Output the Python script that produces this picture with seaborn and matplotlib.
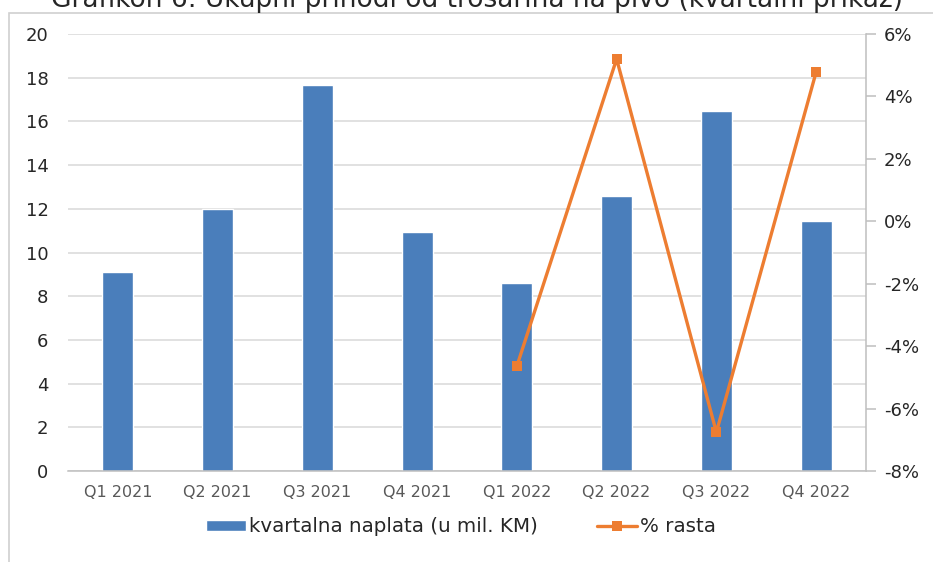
import numpy as np
import pandas as pd
import matplotlib
matplotlib.use("Agg")
import matplotlib.pyplot as plt
from matplotlib.patches import Rectangle
from matplotlib.ticker import FuncFormatter, MultipleLocator
import seaborn as sns

# ---- data ----
quarters = ["Q1 2021", "Q2 2021", "Q3 2021", "Q4 2021",
            "Q1 2022", "Q2 2022", "Q3 2022", "Q4 2022"]
revenue = [9.1, 12.0, 17.67, 10.94, 8.6, 12.59, 16.48, 11.44]
growth_quarters = ["Q1 2022", "Q2 2022", "Q3 2022", "Q4 2022"]
growth_pct = [-4.64, 5.2, -6.76, 4.78]
bar_label = "kvartalna naplata (u mil. KM)"
line_label = "% rasta"
title = "Grafikon 6: Ukupni prihodi od trošarina na pivo (kvartalni prikaz)"

BLUE = "#4A7EBB"
ORANGE = "#ED7D31"
GRID = "#D9D9D9"
TXT = "#262626"

sns.set_style("white")
plt.rcParams["font.family"] = ["DejaVu Sans"]

W, H = 933, 562
fig = plt.figure(figsize=(W / 100, H / 100), dpi=100)
ax = fig.add_axes([68 / W, (H - 471) / H, (866 - 68) / W, (471 - 34) / H])

df = pd.DataFrame({"quarter": quarters, "value": revenue})
sns.barplot(data=df, x="quarter", y="value", color=BLUE, saturation=1,
            width=0.31, ax=ax, label=bar_label, zorder=2)
ax.set_ylim(0, 20)
ax.set_xlim(-0.5, len(quarters) - 0.5)
ax.yaxis.set_major_locator(MultipleLocator(2))
ax.set_axisbelow(True)
ax.yaxis.grid(True, color=GRID, linewidth=1.1)
ax.xaxis.grid(False)
ax.set_xlabel("")
ax.set_ylabel("")
for s in ["left", "top", "right"]:
    ax.spines[s].set_visible(False)
ax.spines["bottom"].set_color("#BFBFBF")
ax.spines["bottom"].set_linewidth(1.1)
ax.tick_params(axis="y", length=0, pad=14, labelsize=13, labelcolor=TXT)
ax.tick_params(axis="x", length=0, pad=10, labelsize=11.5, labelcolor="#595959")

ax2 = ax.twinx()
gx = [quarters.index(q) for q in growth_quarters]
sns.lineplot(x=gx, y=growth_pct, ax=ax2, color=ORANGE, linewidth=2.4,
             marker="s", markersize=7.5, markeredgewidth=0, label=line_label)
ax2.set_ylim(-8, 6)
ax2.set_xlim(-0.5, len(quarters) - 0.5)
ax2.yaxis.set_major_locator(MultipleLocator(2))
ax2.yaxis.set_major_formatter(FuncFormatter(lambda v, p: f"{int(round(v))}%"))
ax2.set_ylabel("")
for s in ["left", "top", "bottom"]:
    ax2.spines[s].set_visible(False)
ax2.spines["right"].set_color("#BFBFBF")
ax2.spines["right"].set_linewidth(1.1)
ax2.tick_params(axis="y", length=7, width=1.1, color="#BFBFBF", direction="out",
                pad=6, labelsize=13, labelcolor=TXT)
ax2.grid(False)
if ax2.get_legend() is not None:
    ax2.get_legend().remove()
if ax.get_legend() is not None:
    ax.get_legend().remove()

h1, l1 = ax.get_legend_handles_labels()
h2, l2 = ax2.get_legend_handles_labels()
leg = fig.legend(h1[:1] + h2[:1], [bar_label, line_label], loc="center",
                 bbox_to_anchor=(461 / W, 1 - 527 / H), ncol=2, frameon=False,
                 fontsize=14.3, handlelength=2.0, handleheight=0.5,
                 handletextpad=0.15, columnspacing=3.0)
for t in leg.get_texts():
    t.set_color(TXT)

# outer chart frame and title (cut off at the top edge, as in the source image)
fig.add_artist(Rectangle((8.5 / W, -0.1), 1.2, 1 - 13 / H + 0.1,
                         transform=fig.transFigure, fill=False,
                         edgecolor="#D0D0D0", linewidth=1.2))
fig.text(477 / W, 1 - 7 / H, title, ha="center", va="baseline",
         fontsize=19, color=TXT)

fig.savefig("out.png", dpi=100)
